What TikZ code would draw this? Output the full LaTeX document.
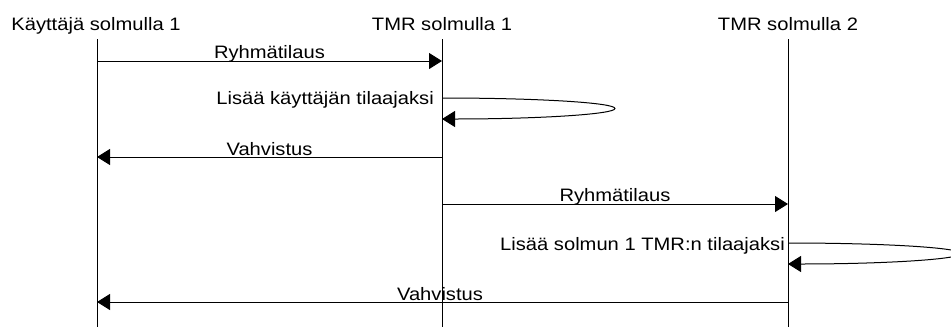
\documentclass[tikz,border=0pt]{standalone}
\usepackage{fontspec}
\setmainfont{Liberation Sans}[FakeStretch=1.12]
\usetikzlibrary{arrows.meta}
\tikzset{
  lifeline/.style={draw=black, line width=1pt},
  msg/.style={draw=black, line width=1pt, -{Triangle[length=13pt,width=16pt]}},
  lbl/.style={inner sep=0pt, font=\fontsize{18}{21}\selectfont, text=black},
}
\begin{document}
\begin{tikzpicture}[x=1pt,y=-1pt]
\useasboundingbox (0,0) rectangle (951,327);
\clip (0,0) rectangle (951,327);
% headers
\node[lbl, anchor=base] (h1) at (96,30) {Käyttäjä solmulla 1};
\node[lbl, anchor=base] (h2) at (442,30) {TMR solmulla 1};
\node[lbl, anchor=base] (h3) at (788,30) {TMR solmulla 2};
% lifelines
\coordinate (t1) at (97,39);  \coordinate (b1) at (97,327);
\coordinate (t2) at (442,39); \coordinate (b2) at (442,327);
\coordinate (t3) at (788,39); \coordinate (b3) at (788,327);
\draw[lifeline] (t1) -- (b1);
\draw[lifeline] (t2) -- (b2);
\draw[lifeline] (t3) -- (b3);
% message 1
\coordinate (m1a) at (97,61); \coordinate (m1b) at (442,61);
\draw[msg] (m1a) -- (m1b);
\node[lbl, anchor=base] (l1) at (269.5,58.5) {Ryhmätilaus};
% self loop 1
\coordinate (s1) at (442,98);
\draw[msg] (s1) arc[start angle=90, end angle=-90, x radius=173pt, y radius=10.5pt];
\node[lbl, anchor=base east] (l2) at (434,104.5) {Lisää käyttäjän tilaajaksi};
% message 3
\coordinate (m3a) at (442,157); \coordinate (m3b) at (97,157);
\draw[msg] (m3a) -- (m3b);
\node[lbl, anchor=base] (l3) at (269.5,155) {Vahvistus};
% message 4
\coordinate (m4a) at (442,204); \coordinate (m4b) at (788,204);
\draw[msg] (m4a) -- (m4b);
\node[lbl, anchor=base] (l4) at (615,201.5) {Ryhmätilaus};
% self loop 2
\coordinate (s2) at (788,243);
\draw[msg] (s2) arc[start angle=90, end angle=-90, x radius=173pt, y radius=10.5pt];
\node[lbl, anchor=base east] (l5) at (785,250) {Lisää solmun 1 TMR:n tilaajaksi};
% message 6
\coordinate (m6a) at (788,302); \coordinate (m6b) at (97,302);
\draw[msg] (m6a) -- (m6b);
\node[lbl, anchor=base] (l6) at (440,300) {Vahvistus};
\end{tikzpicture}
\end{document}
